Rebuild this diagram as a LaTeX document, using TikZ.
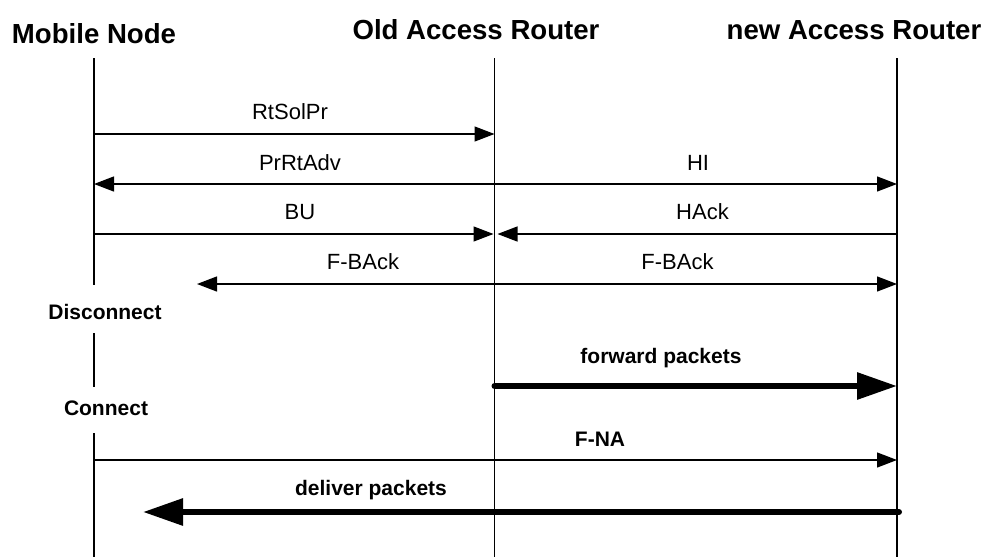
\documentclass[tikz,border=0pt]{standalone}
\usepackage{fontspec}
\setmainfont{Liberation Sans}
\usetikzlibrary{arrows.meta}
\begin{document}
\begin{tikzpicture}[x=1pt,y=-1pt,
  hdr/.style={font=\fontsize{27.6}{30}\selectfont\bfseries, anchor=base, inner sep=0pt},
  lbl/.style={font=\fontsize{22}{26}\selectfont, anchor=base, inner sep=0pt},
  blbl/.style={font=\fontsize{21}{25}\selectfont\bfseries, anchor=base, inner sep=0pt},
  life/.style={line width=1.4pt},
  msg/.style={line width=1.3pt},
  bulk/.style={line width=6pt, line cap=round},
  tipS/.tip={Triangle[length=20pt,width=15pt]},
  tipL/.tip={Triangle[length=40pt,width=26pt]}]
\useasboundingbox (0,0) rectangle (987,557);
% headers
\node[hdr] (hmn) at (94,43) {Mobile Node};
\node[hdr] (hoar) at (476,39) {Old Access Router};
\node[hdr] (hnar) at (854,39) {new Access Router};
% lifeline coordinates
\coordinate (mnT) at (94,58);
\coordinate (mnB1) at (94,285);
\coordinate (mnT2) at (94,333);
\coordinate (mnB2) at (94,387);
\coordinate (mnT3) at (94,433);
\coordinate (mnB3) at (94,557);
\coordinate (oarT) at (494.5,58);
\coordinate (oarB) at (494.5,557);
\coordinate (narT) at (897,58);
\coordinate (narB) at (897,557);
\draw[life] (mnT) -- (mnB1);
\draw[life] (mnT2) -- (mnB2);
\draw[life] (mnT3) -- (mnB3);
\draw[life] (oarT) -- (oarB);
\draw[life] (narT) -- (narB);
\node[blbl] (disc) at (105,319) {Disconnect};
\node[blbl] (conn) at (106,415) {Connect};
% message end points
\coordinate (m1a) at (94,134);   \coordinate (m1b) at (494.5,134);
\coordinate (m2a) at (94,184);   \coordinate (m2b) at (897,184);
\coordinate (m3a) at (94,234);   \coordinate (m3b) at (493.5,234);
\coordinate (m4a) at (897,234);  \coordinate (m4b) at (497.5,234);
\coordinate (m5a) at (197,284);  \coordinate (m5b) at (897,284);
\coordinate (m6a) at (494.5,386); \coordinate (m6b) at (897,386);
\coordinate (m7a) at (94,460);   \coordinate (m7b) at (897,460);
\coordinate (m8a) at (899,512);  \coordinate (m8b) at (143,512);
% messages
\draw[msg,-{tipS}] (m1a) -- (m1b);
\node[lbl] (l1) at (290,119) {RtSolPr};
\draw[msg,{tipS}-{tipS}] (m2a) -- (m2b);
\node[lbl] (l2) at (300,170) {PrRtAdv};
\node[lbl] (l2b) at (698,170) {HI};
\draw[msg,-{tipS}] (m3a) -- (m3b);
\node[lbl] (l3) at (300,219) {BU};
\draw[msg,-{tipS}] (m4a) -- (m4b);
\node[lbl] (l4) at (702.5,219) {HAck};
\draw[msg,{tipS}-{tipS}] (m5a) -- (m5b);
\node[lbl] (l5) at (363,269) {F-BAck};
\node[lbl] (l5b) at (677.5,269) {F-BAck};
\draw[bulk,-{tipL}] (m6a) -- (m6b);
\node[blbl] (l6) at (661,363) {forward packets};
\draw[msg,-{tipS}] (m7a) -- (m7b);
\node[blbl] (l7) at (600,446) {F-NA};
\draw[bulk,-{tipL}] (m8a) -- (m8b);
\node[blbl] (l8) at (371,495) {deliver packets};
\end{tikzpicture}
\end{document}
